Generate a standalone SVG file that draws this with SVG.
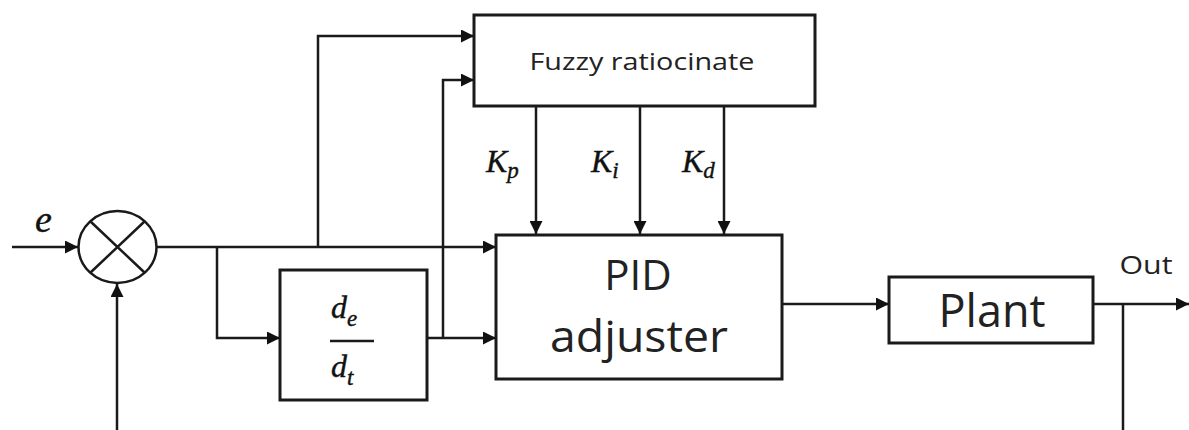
<svg xmlns="http://www.w3.org/2000/svg" width="1189" height="430" viewBox="0 0 1189 430">
<defs>
<marker id="ah" viewBox="0 0 10 10" refX="10" refY="5" markerWidth="16" markerHeight="13" markerUnits="userSpaceOnUse" orient="auto">
<path d="M0,0 L10,5 L0,10 Z" fill="#111"/>
</marker>
</defs>
<style>
.box{fill:#fff;stroke:#1a1a1a;stroke-width:3}
.ln{fill:none;stroke:#1a1a1a;stroke-width:2.5}
.arr{fill:none;stroke:#1a1a1a;stroke-width:2.5;marker-end:url(#ah)}
.t{font-family:"Open Sans","Liberation Sans",sans-serif;fill:#222;text-anchor:middle}
.m{font-family:"Liberation Serif","DejaVu Serif",serif;font-style:italic;fill:#111;stroke:#111;stroke-width:0.4}
</style>
<rect width="1189" height="430" fill="#fff"/>
<g id="connectors">
<path class="arr" d="M12,247 H78"/>
<path class="arr" d="M117,430 V284"/>
<path class="arr" d="M157,247 H496"/>
<path class="arr" d="M217,247 V338 H280"/>
<path class="arr" d="M318,247 V36 H474"/>
<path class="arr" d="M427,338 H496"/>
<path class="arr" d="M443,338 V80 H474"/>
<path class="arr" d="M536,106 V234"/>
<path class="arr" d="M640,106 V234"/>
<path class="arr" d="M724,106 V234"/>
<path class="arr" d="M782,304 H889"/>
<path class="arr" d="M1093,304 H1189"/>
<path class="ln" d="M1123,304 V430"/>
</g>
<g id="sum">
<ellipse cx="117.5" cy="247" rx="39" ry="36" fill="#fff" stroke="#1a1a1a" stroke-width="2.5"/>
<path class="ln" d="M90,221 L145,273 M145,221 L90,273"/>
</g>
<g id="label-e"><text class="m" x="35" y="232" font-size="38">e</text></g>
<g id="deriv">
<rect class="box" x="280" y="270" width="147" height="130"/>
<text class="m" x="331" y="318" font-size="32">d<tspan font-size="23" dy="8">e</tspan></text>
<path d="M330,341 H374" stroke="#1a1a1a" stroke-width="2.5"/>
<text class="m" x="331" y="377" font-size="32">d<tspan font-size="23" dy="8">t</tspan></text>
</g>
<g id="fuzzy">
<rect class="box" x="474" y="15" width="341" height="91"/>
<text class="t" x="642" y="70" font-size="24" textLength="225" lengthAdjust="spacingAndGlyphs">Fuzzy ratiocinate</text>
</g>
<g id="gains">
<text class="m" x="486" y="172" font-size="32">K<tspan font-size="23" dy="6">p</tspan></text>
<text class="m" x="591" y="172" font-size="32">K<tspan font-size="23" dy="6">i</tspan></text>
<text class="m" x="682" y="172" font-size="32">K<tspan font-size="23" dy="6">d</tspan></text>
</g>
<g id="pid">
<rect class="box" x="496" y="235" width="286" height="144"/>
<text class="t" x="638" y="290" font-size="42">PID</text>
<text class="t" x="639" y="352" font-size="44" textLength="178" lengthAdjust="spacingAndGlyphs">adjuster</text>
</g>
<g id="plant">
<rect class="box" x="889" y="277" width="204" height="66"/>
<text class="t" x="992" y="327" font-size="45">Plant</text>
</g>
<g id="out"><text class="t" x="1146" y="274" font-size="26" textLength="53" lengthAdjust="spacingAndGlyphs">Out</text></g>
</svg>
